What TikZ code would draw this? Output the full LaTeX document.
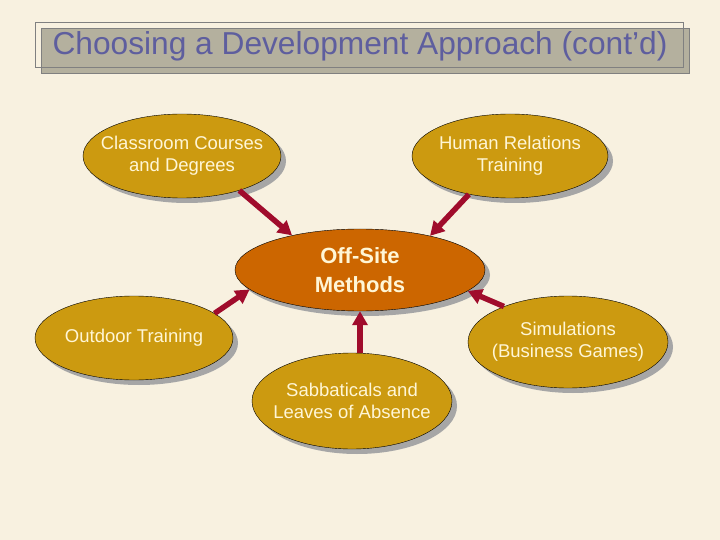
\documentclass[tikz,border=0pt]{standalone}
\usepackage{fontspec}
\setmainfont{Liberation Sans}
\usetikzlibrary{arrows.meta, shapes.geometric, shadows}
\definecolor{paper}{HTML}{F8F1E0}
\definecolor{gold}{HTML}{CC9A10}
\definecolor{offorange}{HTML}{CC6600}
\definecolor{arrowred}{HTML}{A00C2C}
\definecolor{titlegray}{HTML}{B4B09E}
\definecolor{titleblue}{HTML}{5E5E9E}
\definecolor{cream}{HTML}{FFF6D6}

\begin{document}
\begin{tikzpicture}[x=1pt, y=-1pt, >={Triangle[length=14pt, width=15pt]}, link/.style={draw=arrowred, line width=5.5pt, ->}]
% Define styles for ovals, their texts and the title
\tikzstyle{oval} = [draw, ellipse, fill=gold, inner sep=0pt, minimum width=198pt, minimum height=84pt, drop shadow={shadow xshift=5pt, shadow yshift=-5pt, fill=gray!70, opacity=1}]
\tikzstyle{hub} = [oval, fill=offorange, minimum width=250pt, minimum height=82pt]
\tikzstyle{ovaltext} = [align=center, text=cream, font=\fontsize{18.5}{22}\selectfont]
\tikzstyle{hubtext} = [align=center, text=cream, font=\fontsize{22}{29}\selectfont\bfseries]
\tikzstyle{titlebox} = [draw=gray, thin, minimum width=648pt, minimum height=45pt, drop shadow={shadow xshift=6pt, shadow yshift=-6pt, fill=titlegray, draw=gray, opacity=1}]

% Background
\fill[paper] (0,0) rectangle (720,540);
\useasboundingbox (0,0) rectangle (720,540);

% Title
\node [titlebox] (title) at (359,44.5) {};
\node [anchor=base, text=titleblue, font=\fontsize{31.7}{36}\selectfont] at (360,55) {Choosing a Development Approach (cont’d)};

% Nodes placement
\node [hub] (offsite) at (360,270) {};
\node [hubtext] at (offsite) {Off-Site\\Methods};

\node [oval] (classroom) at (182,156) {};
\node [ovaltext] at (classroom) {Classroom Courses\\and Degrees};

\node [oval, minimum width=196pt] (human) at (510,156) {};
\node [ovaltext] at (human) {Human Relations\\Training};

\node [oval] (outdoor) at (134,338) {};
\node [ovaltext] at (outdoor) {Outdoor Training};

\node [oval, minimum width=200pt, minimum height=92pt] (simulation) at (568,342) {};
\node [ovaltext] at (simulation) {Simulations\\(Business Games)};

\node [oval, minimum width=200pt, minimum height=96pt] (sabbatical) at (352,401) {};
\node [ovaltext] at (sabbatical) {Sabbaticals and\\Leaves of Absence};

% Draw edges
\draw[link] (classroom.-31) -- (offsite.153);
\draw[link] (human.-137) -- (offsite.26);
\draw[link] (outdoor.17) -- (offsite.-170);
\draw[link] (simulation.151) -- (offsite.-11);
\draw[link] (sabbatical.north -| offsite.south) -- (offsite.south);
\end{tikzpicture}
\end{document}
